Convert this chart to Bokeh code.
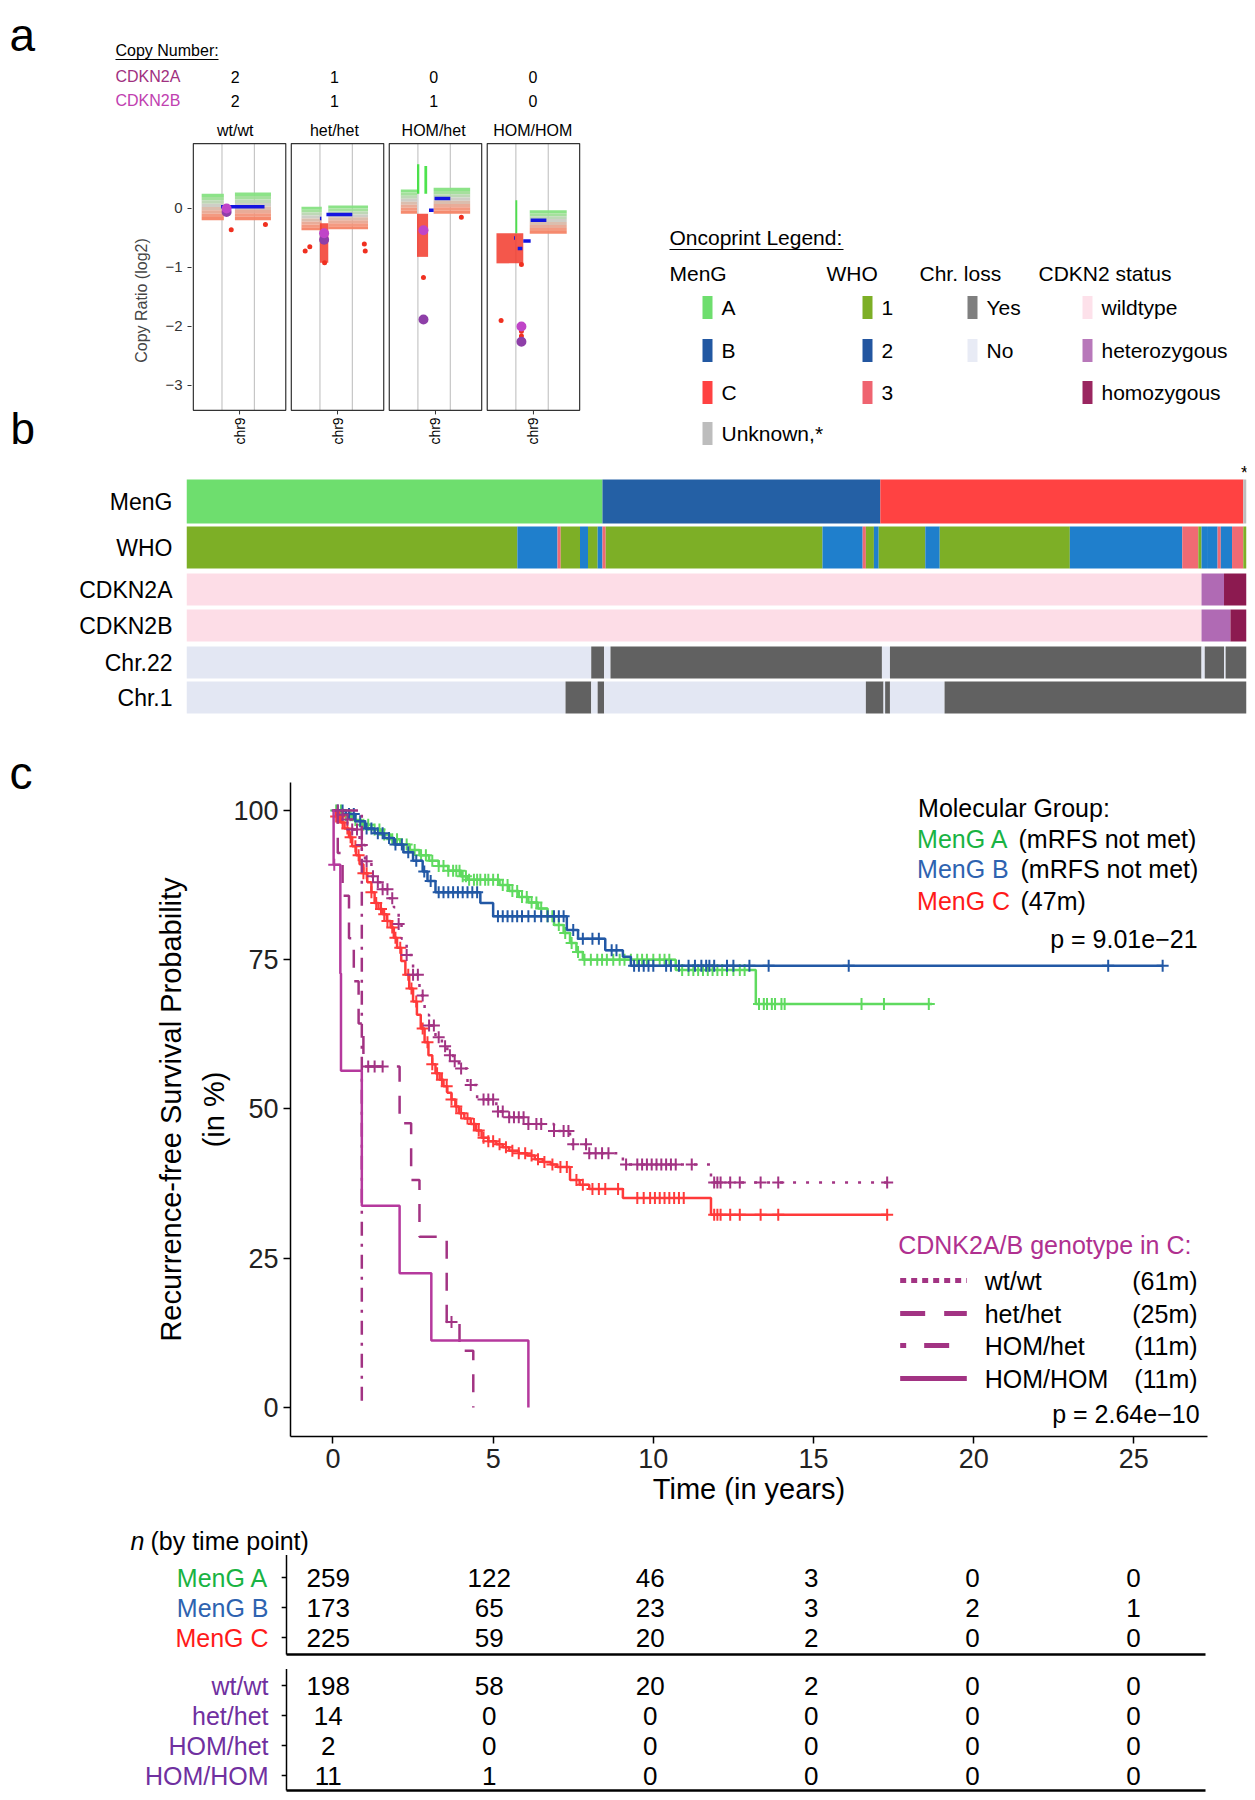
import numpy as np
from bokeh.plotting import figure
from bokeh.layouts import column, row
from bokeh.models import Range1d, FixedTicker
from bokeh.core.properties import value
from bokeh.embed import file_html
from bokeh.resources import INLINE

FONT = "Liberation Sans"

# ======================= DATA =======================
# ---- panel a : copy number profiles of chr9 ----
facet_names = ["wt/wt", "het/het", "HOM/het", "HOM/HOM"]
cn_cdkn2a = [2, 1, 0, 0]
cn_cdkn2b = [2, 1, 1, 0]
# dense bins drawn as bands (facet, relative chr position, log2 ratio extent)
band_facet = [0, 0, 1, 1, 2, 2, 3]
band_x0 = [0.09, 0.45, 0.11, 0.40, 0.125, 0.48, 0.46]
band_x1 = [0.33, 0.84, 0.33, 0.83, 0.30, 0.875, 0.86]
band_top = [0.25, 0.27, 0.03, 0.05, 0.32, 0.35, -0.03]
band_bot = [-0.20, -0.20, -0.37, -0.35, -0.09, -0.09, -0.43]
loss_facet = [1, 2, 3]
loss_x0 = [0.31, 0.30, 0.10]
loss_x1 = [0.40, 0.42, 0.39]
loss_top = [-0.25, -0.09, -0.42]
loss_bot = [-0.92, -0.82, -0.93]
gain_facet = [2, 2, 3]
gain_x0 = [0.30, 0.38, 0.305]
gain_x1 = [0.325, 0.41, 0.325]
gain_top = [0.75, 0.72, 0.14]
gain_bot = [0.25, 0.25, -0.42]
out_facet = [0, 0, 1, 1, 1, 1, 1, 2, 2, 3, 3, 3, 3]
out_x = [0.41, 0.78, 0.15, 0.20, 0.36, 0.79, 0.80, 0.37, 0.78, 0.15, 0.37, 0.37, 0.37]
out_y = [-0.36, -0.27, -0.72, -0.65, -0.92, -0.60, -0.72, -1.17, -0.15, -1.90, -0.95, -2.08, -2.16]
seg_facet = [0, 1, 1, 2, 2, 3, 3, 3, 3]
seg_x0 = [0.30, 0.38, 0.31, 0.49, 0.43, 0.47, 0.29, 0.39, 0.33]
seg_x1 = [0.77, 0.66, 0.325, 0.66, 0.48, 0.64, 0.30, 0.47, 0.38]
seg_y = [0.03, -0.10, -0.17, 0.17, -0.03, -0.20, -0.50, -0.55, -0.68]
gene_facet = [0, 0, 1, 1, 2, 2, 3, 3]
gene_x = [0.36, 0.36, 0.355, 0.355, 0.37, 0.37, 0.37, 0.37]
gene_y = [-0.06, 0.00, -0.53, -0.42, -1.88, -0.37, -2.26, -2.00]
gene_id = ["A", "B", "A", "B", "A", "B", "A", "B"]

# ---- panel b : oncoprint (sample index segments) ----
meng_breaks = [0, 259, 432, 658, 660]
meng_group = ["A", "B", "C", "U"]
who_breaks = [0, 206, 231, 233, 245, 250, 256, 259, 261, 396, 421, 423, 428, 431, 460,
              469, 550, 620, 630, 632, 636, 642, 644, 651, 658, 660]
who_grade = [1, 2, 3, 1, 2, 1, 2, 3, 1, 2, 3, 1, 2, 1, 2, 1, 2, 3, 1, 2, 2, 3, 2, 3, 1]
cdkn2a_breaks = [0, 632, 646, 660]
cdkn2a_state = ["wt", "het", "hom"]
cdkn2b_breaks = [0, 632, 650, 660]
cdkn2b_state = ["wt", "het", "hom"]
chr22_breaks = [0, 252, 260, 264, 433, 438, 632, 634, 646, 647, 660]
chr22_loss = [0, 1, 0, 1, 0, 1, 0, 1, 0, 1]
chr1_breaks = [0, 236, 252, 256, 260, 423, 434, 435, 438, 472, 660]
chr1_loss = [0, 1, 0, 1, 0, 1, 0, 1, 0, 1]

# ---- panel c : Kaplan-Meier curves (time in years, survival in %) ----
A_t = [0, 0.3, 0.6, 0.9, 1.2, 1.5, 1.8, 2.1, 2.4, 2.7, 3.0, 3.3, 3.6, 4.0, 4.2, 5.2, 5.5,
       5.8, 6.1, 6.4, 6.7, 6.9, 7.2, 7.4, 7.6, 7.8, 10.7, 13.2, 18.7]
A_s = [100, 99.2, 98.4, 97.6, 96.8, 96.0, 95.2, 94.3, 93.4, 92.5, 91.6, 90.7, 89.9, 89.0,
       88.4, 87.5, 86.5, 85.5, 84.6, 83.6, 82.3, 80.8, 79.5, 77.8, 76.3, 75.0, 73.3, 67.6, 67.6]
A_cens = [0.1, 0.25, 0.4, 0.55, 0.7, 0.95, 1.1, 1.3, 1.45, 1.6, 1.85, 2.0, 2.3, 2.55, 2.75,
          2.9, 3.1, 3.3, 3.45, 3.6, 3.75, 3.85, 3.95, 4.05, 4.15, 4.25, 4.4, 4.5, 4.6, 4.75,
          4.85, 5.0, 5.15, 5.3, 5.45, 5.6, 5.75, 5.9, 6.05, 6.2, 6.35, 6.5, 6.7, 6.85, 7.05,
          7.25, 7.45, 7.65, 7.85, 8.05, 8.25, 8.4, 8.55, 8.75, 8.95, 9.1, 9.3, 9.5, 9.65, 9.8,
          10.0, 10.2, 10.35, 10.5, 10.9, 11.1, 11.25, 11.4, 11.55, 11.7, 11.85, 12.0, 12.15,
          12.3, 12.5, 12.7, 12.85, 13.3, 13.45, 13.55, 13.7, 13.8, 14.0, 14.1, 16.5, 17.2, 18.6]
B_t = [0, 0.4, 0.7, 1.0, 1.3, 1.6, 1.9, 2.2, 2.5, 2.8, 2.95, 3.2, 4.6, 5.0, 7.3, 7.65, 8.5,
       9.05, 9.3, 25.9]
B_s = [100, 99.4, 98.2, 97.0, 96.2, 95.4, 94.3, 93.0, 91.6, 89.8, 88.2, 86.3, 84.5, 82.3,
       80.0, 78.5, 76.6, 75.5, 74.0, 74.0]
B_cens = [0.15, 0.3, 0.5, 0.65, 0.85, 1.05, 1.2, 1.4, 1.55, 1.75, 1.95, 2.15, 2.35, 2.6, 2.85,
          3.05, 3.3, 3.45, 3.6, 3.75, 3.9, 4.05, 4.2, 4.35, 4.5, 5.15, 5.3, 5.45, 5.6, 5.75,
          5.9, 6.1, 6.3, 6.5, 6.7, 6.9, 7.05, 7.2, 7.5, 7.8, 8.1, 8.3, 8.7, 8.85, 9.4, 9.55,
          9.7, 9.85, 10.0, 10.4, 10.55, 10.8, 11.1, 11.3, 11.5, 11.65, 11.75, 11.9, 12.3, 12.5,
          13.0, 13.6, 16.1, 24.2, 25.9]
C_t = [0, 0.1, 0.25, 0.36, 0.5, 0.6, 0.72, 0.83, 0.95, 1.07, 1.2, 1.3, 1.42, 1.55, 1.68, 1.8,
       1.9, 2.0, 2.13, 2.26, 2.38, 2.5, 2.62, 2.74, 2.86, 2.98, 3.1, 3.2, 3.33, 3.45, 3.57, 3.7,
       3.82, 3.93, 4.1, 4.3, 4.47, 4.64, 4.85, 5.1, 5.3, 5.5, 5.8, 6.07, 6.3, 6.55, 6.8, 7.0,
       7.4, 7.7, 8.0, 9.05, 11.8, 17.3]
C_s = [100, 99, 98, 97, 95.5, 94, 92.5, 91, 89.5, 88, 86.3, 84.5, 83.5, 82.6, 81.5, 80.4,
       78.7, 77, 74.8, 72.5, 70.2, 68, 65.8, 63.5, 61.2, 59, 57.5, 56, 54.9, 53.8, 52.7, 51.6,
       50.4, 49.3, 48.4, 47.5, 46.4, 45.2, 44.6, 44.1, 43.6, 43, 42.6, 42.2, 41.6, 41.1, 40.7,
       40.3, 38.1, 37.3, 36.6, 35.1, 32.3, 32.3]
C_cens = [0.1, 0.2, 0.3, 0.45, 0.55, 0.7, 0.8, 0.95, 1.05, 1.2, 1.35, 1.5, 1.6, 1.7, 1.85,
          1.95, 2.1, 2.35, 2.45, 2.6, 2.8, 2.95, 3.1, 3.25, 3.4, 3.55, 3.7, 3.85, 4.0, 4.2, 4.4,
          4.55, 4.7, 4.85, 5.0, 5.2, 5.4, 5.6, 5.8, 6.0, 6.2, 6.4, 6.6, 6.85, 7.1, 7.3, 7.6,
          7.8, 8.1, 8.3, 8.5, 8.9, 9.5, 9.7, 9.9, 10.05, 10.2, 10.35, 10.5, 10.65, 10.8, 10.95,
          11.9, 12.0, 12.1, 12.4, 12.7, 13.35, 13.9, 17.3]
W_t = [0, 0.2, 0.4, 0.6, 0.83, 1.0, 1.2, 1.4, 1.55, 1.75, 1.9, 2.05, 2.14, 2.3, 2.5, 2.7,
       2.86, 3.0, 3.2, 3.4, 3.57, 3.75, 3.93, 4.2, 4.5, 5.1, 5.5, 6.07, 6.9, 7.4, 8.0, 9.05,
       11.8, 17.3]
W_s = [100, 99.3, 98.5, 96.8, 94.2, 91.5, 89, 88, 86.8, 85.3, 83.8, 81, 78.5, 75.8, 72.5, 69,
       65.8, 64, 62, 60.5, 59, 58, 56.8, 54, 51.6, 49.6, 48.6, 47.5, 46.3, 44.1, 42.6, 40.7,
       37.7, 37.7]
W_cens = [0.15, 0.3, 0.45, 0.6, 0.75, 0.9, 1.05, 1.25, 1.4, 1.55, 1.7, 1.85, 2.05, 2.3, 2.5,
          2.65, 2.8, 3.0, 3.15, 3.3, 3.5, 3.65, 3.8, 4.0, 4.3, 4.7, 4.85, 5.0, 5.15, 5.3, 5.5,
          5.65, 5.8, 5.95, 6.1, 6.35, 6.5, 6.9, 7.2, 7.35, 7.5, 7.9, 8.0, 8.2, 8.4, 8.6, 9.15,
          9.5, 9.65, 9.8, 9.95, 10.1, 10.25, 10.4, 10.55, 10.7, 11.2, 11.9, 12.0, 12.1, 12.4,
          12.7, 13.35, 13.9, 17.3]
H_t = [0, 0.15, 0.3, 0.5, 0.65, 0.8, 0.95, 2.08, 2.44, 2.7, 3.55, 3.95, 4.38]
H_s = [100, 92.9, 85.7, 78.6, 71.4, 64.3, 57.1, 47.6, 38.1, 28.6, 14.3, 9.5, 0]
H_cens = [1.1, 1.3, 1.55, 3.7]
G_t = [0, 0.9]
G_s = [100, 0]
K_t = [0, 0.02, 0.23, 0.25, 0.9, 2.08, 3.07, 6.1]
K_s = [100, 90.9, 72.7, 56.4, 33.8, 22.5, 11.2, 0]
K_cens = [0.04]

# ---- numbers at risk ----
risk_times = [0, 5, 10, 15, 20, 25]
risk_labels = ["MenG A", "MenG B", "MenG C", "wt/wt", "het/het", "HOM/het", "HOM/HOM"]
risk_A = [259, 122, 46, 3, 0, 0]
risk_B = [173, 65, 23, 3, 2, 1]
risk_C = [225, 59, 20, 2, 0, 0]
risk_wt = [198, 58, 20, 2, 0, 0]
risk_het = [14, 0, 0, 0, 0, 0]
risk_homhet = [2, 0, 0, 0, 0, 0]
risk_homhom = [11, 1, 0, 0, 0, 0]

# ======================= STYLE / LAYOUT =======================
MENG_COL = {"A": "#6EDE6E", "B": "#2460A5", "C": "#FF4242", "U": "#BDBDBD"}
WHO_COL = {1: "#7DAF26", 2: "#1F7FCC", 3: "#F06A73"}
CDKN_COL = {"wt": "#FDDDE7", "het": "#B06AB4", "hom": "#8C1A50"}
CHR_COL = {0: "#E3E7F3", 1: "#616161"}
GRAD = ["#86E282", "#A0DE98", "#BBD6B2", "#CBCBC3", "#D9BAAA", "#E8A892", "#F2957A", "#F48466"]
COL_A, COL_B, COL_C = "#5FDA5F", "#2258A5", "#FF3A3A"
COL_G, COL_GH = "#A23383", "#B5399D"


def clean(p):
    p.outline_line_color = None
    p.grid.visible = False
    p.background_fill_color = None
    p.border_fill_color = None


def T(p, xs, ys, texts, size, color="black", align="left", baseline="middle",
      angle=0.0, style="normal"):
    p.text(x=list(xs), y=list(ys), text=list(texts), text_font=value(FONT),
           text_font_size=size, text_color=color, text_align=align,
           text_baseline=baseline, angle=angle, text_font_style=style)


def fig(w, h, xr, yr, **kw):
    p = figure(width=w, height=h, x_range=xr, y_range=yr, output_backend="svg",
               toolbar_location=None, **kw)
    clean(p)
    return p


def pad(w, h, x0, y0):
    """blank canvas in page-pixel coordinates (for panel letters / outer titles)"""
    return fig(w, h, Range1d(x0, x0 + w), Range1d(y0 + h, y0), min_border=0,
               x_axis_location=None, y_axis_location=None)


# ---------- panel a geometry ----------
FSTEP = 1.06
AX0, AX1 = -0.02, 4.20
A_LEFT = 186
PXU = 395 / (AX1 - AX0)


def ax_px(px):
    return AX0 + (px - A_LEFT) / PXU


fc = [k * FSTEP + 0.5 for k in range(4)]

# header
hdr = fig(590, 138, Range1d(ax_px(0), ax_px(590)), Range1d(138, 0), min_border=0,
          x_axis_location=None, y_axis_location=None)
T(hdr, [ax_px(9)], [34], ["a"], "46px", baseline="alphabetic")
T(hdr, [ax_px(115)], [50], ["Copy Number:"], "16px")
hdr.segment(x0=[ax_px(115)], x1=[ax_px(218)], y0=[59], y1=[59], line_color="black", line_width=1)
T(hdr, [ax_px(115)], [76], ["CDKN2A"], "16px", color="#A03080")
T(hdr, [ax_px(115)], [100], ["CDKN2B"], "16px", color="#C040B0")
T(hdr, fc, [76] * 4, [str(v) for v in cn_cdkn2a], "16px", align="center")
T(hdr, fc, [100] * 4, [str(v) for v in cn_cdkn2b], "16px", align="center")
T(hdr, fc, [130] * 4, facet_names, "16px", align="center")

# gutter with letter b
gut_b = pad(130, 324, 0, 138)
T(gut_b, [10], [428], ["b"], "44px", baseline="middle")

# panel a plot
pan = fig(460, 324, Range1d(AX0, AX1), Range1d(-4.305, 1.186), min_border_left=56,
          min_border_right=9, min_border_top=0, min_border_bottom=0, x_axis_location=None)
BOX_T, BOX_B = 1.10, -3.42
gx = []
for k in range(4):
    gx += [k * FSTEP + 0.31, k * FSTEP + 0.66]
pan.segment(x0=gx, x1=gx, y0=[BOX_B] * 8, y1=[BOX_T] * 8, line_color="#BBBBBB", line_width=1)
sl, sr, st, sb, sc = [], [], [], [], []
for f, x0, x1, t, b in zip(band_facet, band_x0, band_x1, band_top, band_bot):
    h = (t - b) / len(GRAD)
    for i, c in enumerate(GRAD):
        sl.append(f * FSTEP + x0); sr.append(f * FSTEP + x1)
        st.append(t - i * h); sb.append(t - (i + 1) * h); sc.append(c)
pan.quad(left=sl, right=sr, top=st, bottom=sb, fill_color=sc, line_color=None, fill_alpha=0.95)
pan.quad(left=[f * FSTEP + x for f, x in zip(loss_facet, loss_x0)],
         right=[f * FSTEP + x for f, x in zip(loss_facet, loss_x1)],
         top=loss_top, bottom=loss_bot, fill_color="#F23A2C", line_color=None, fill_alpha=0.85)
pan.quad(left=[f * FSTEP + x for f, x in zip(gain_facet, gain_x0)],
         right=[f * FSTEP + x for f, x in zip(gain_facet, gain_x1)],
         top=gain_top, bottom=gain_bot, fill_color="#3BE03B", line_color=None, fill_alpha=0.9)
pan.scatter(x=[f * FSTEP + x for f, x in zip(out_facet, out_x)], y=out_y, size=5,
            fill_color="#F03020", line_color=None)
pan.segment(x0=[f * FSTEP + x for f, x in zip(seg_facet, seg_x0)],
            x1=[f * FSTEP + x for f, x in zip(seg_facet, seg_x1)],
            y0=seg_y, y1=seg_y, line_color="#1414E0", line_width=3.5)
pan.scatter(x=[f * FSTEP + x for f, x in zip(gene_facet, gene_x)], y=gene_y, size=10,
            fill_color=["#8E3FA8" if g == "A" else "#C045C8" for g in gene_id], line_color=None)
pan.quad(left=[k * FSTEP for k in range(4)], right=[k * FSTEP + 1 for k in range(4)],
         top=[BOX_T] * 4, bottom=[BOX_B] * 4, fill_color=None, line_color="#333333",
         line_width=1.2)
pan.segment(x0=fc, x1=fc, y0=[BOX_B] * 4, y1=[BOX_B - 0.07] * 4, line_color="#333333")
T(pan, fc, [BOX_B - 0.12] * 4, ["chr9"] * 4, "14px", align="right", angle=np.pi / 2)
ya = pan.yaxis[0]
ya.ticker = FixedTicker(ticks=[0, -1, -2, -3])
ya.axis_line_color = None
ya.major_tick_out = 4
ya.major_tick_in = 0
ya.major_tick_line_color = "#333333"
ya.minor_tick_line_color = None
ya.major_label_text_font = FONT
ya.major_label_text_font_size = "15px"
ya.major_label_text_color = "#333333"
ya.axis_label = "Copy Ratio (log2)"
ya.axis_label_text_font = FONT
ya.axis_label_text_font_size = "16px"
ya.axis_label_text_font_style = "normal"
ya.axis_label_standoff = 12

# oncoprint legend
leg = fig(657, 462, Range1d(590, 1247), Range1d(462, 0), min_border=0,
          x_axis_location=None, y_axis_location=None)
T(leg, [669], [237], ["Oncoprint Legend:"], "21px")
leg.segment(x0=[669], x1=[843], y0=[249], y1=[249], line_color="black", line_width=1.2)
T(leg, [669, 826, 919, 1038], [273] * 4, ["MenG", "WHO", "Chr. loss", "CDKN2 status"], "21px")
LROW = [307, 350, 392, 433]
leg_cols = [
    (702, ["A", "B", "C", "Unknown,*"], ["#6EDE6E", "#2258A2", "#FF4242", "#BDBDBD"]),
    (862, ["1", "2", "3"], ["#7DAF26", "#2356A0", "#EF6470"]),
    (967, ["Yes", "No"], ["#7F7F7F", "#E8EBF5"]),
    (1082, ["wildtype", "heterozygous", "homozygous"], ["#FDE1EA", "#B878BA", "#9A2660"]),
]
for x0, labs, cols in leg_cols:
    n = len(labs)
    leg.quad(left=[x0] * n, right=[x0 + 10] * n, top=[y - 11.5 for y in LROW[:n]],
             bottom=[y + 11.5 for y in LROW[:n]], fill_color=cols, line_color=None)
    T(leg, [x0 + 19] * n, LROW[:n], labs, "21px")

top = row(column(hdr, row(column(gut_b), column(pan))), column(leg))

# ---------- panel b : oncoprint ----------
ROW_TOP = [479, 526, 573, 609, 646, 681]
ROW_BOT = [523, 568, 605, 641, 678, 713]
ROW_NAME = ["MenG", "WHO", "CDKN2A", "CDKN2B", "Chr.22", "Chr.1"]
pB = fig(1247, 268, Range1d(0, 660), Range1d(730, 462), min_border_left=186,
         min_border_right=1, min_border_top=0, min_border_bottom=0, x_axis_location=None)
rows = [(meng_breaks, [MENG_COL[g] for g in meng_group]),
        (who_breaks, [WHO_COL[g] for g in who_grade]),
        (cdkn2a_breaks, [CDKN_COL[s] for s in cdkn2a_state]),
        (cdkn2b_breaks, [CDKN_COL[s] for s in cdkn2b_state]),
        (chr22_breaks, [CHR_COL[s] for s in chr22_loss]),
        (chr1_breaks, [CHR_COL[s] for s in chr1_loss])]
for i, (br, cols) in enumerate(rows):
    n = len(cols)
    pB.quad(left=br[:-1], right=br[1:], top=[ROW_TOP[i]] * n, bottom=[ROW_BOT[i]] * n,
            fill_color=cols, line_color=None)
T(pB, [meng_breaks[-2] + 0.8], [472], ["*"], "18px", align="center")
yb = pB.yaxis[0]
centers = [(a + b) // 2 for a, b in zip(ROW_TOP, ROW_BOT)]
yb.ticker = FixedTicker(ticks=centers)
yb.major_label_overrides = {c: n for c, n in zip(centers, ROW_NAME)}
yb.axis_line_color = None
yb.major_tick_line_color = None
yb.minor_tick_line_color = None
yb.major_label_standoff = 8
yb.major_label_text_font = FONT
yb.major_label_text_font_size = "23px"
yb.major_label_text_color = "black"

# ---------- panel c : KM ----------
KM_L, KM_R, KM_T, KM_B = 285, 1207, 782, 1436
KM_X0, KM_X1 = -1.326, 27.30
KM_Y0, KM_Y1 = -4.86, 104.69
PX_YR = (KM_R - KM_L) / (KM_X1 - KM_X0)
PX_PCT = (KM_B - KM_T) / (KM_Y1 - KM_Y0)


def kx(px):
    return KM_X0 + (px - KM_L) / PX_YR


def ky(py):
    return KM_Y1 - (py - KM_T) / PX_PCT


gut_c = pad(195, 790, 0, 730)
T(gut_c, [9], [772], ["c"], "46px", baseline="alphabetic")
T(gut_c, [170], [1109], ["Recurrence-free Survival Probability"], "29px", align="center",
  angle=np.pi / 2)

pC = fig(1052, 790, Range1d(KM_X0, KM_X1), Range1d(KM_Y0, KM_Y1), min_border_left=90,
         min_border_right=40, min_border_top=52, min_border_bottom=84)


def surv_at(ts, ss, c):
    idx = np.searchsorted(np.asarray(ts), np.asarray(c), side="right") - 1
    return list(np.asarray(ss)[idx])


curves = [
    (A_t, A_s, A_cens, COL_A, "solid", 2.5),
    (B_t, B_s, B_cens, COL_B, "solid", 2.5),
    (C_t, C_s, C_cens, COL_C, "solid", 2.5),
    (W_t, W_s, W_cens, COL_G, "3 10", 2.5),
    (H_t, H_s, H_cens, COL_G, "18 14", 2.5),
    (G_t, G_s, [], COL_G, "3 8 14 8", 2.5),
    (K_t, K_s, K_cens, COL_GH, "solid", 2.5),
]
for ts, ss, cens, col, dash, lw in curves:
    pC.step(x=ts, y=ss, mode="after", line_color=col, line_width=lw, line_dash=dash)
    if cens:
        pC.scatter(x=cens, y=surv_at(ts, ss, cens), marker="cross", size=12,
                   line_color=col, line_width=2)

for ax in (pC.xaxis[0], pC.yaxis[0]):
    ax.axis_line_color = "black"
    ax.axis_line_width = 1.5
    ax.major_tick_line_color = "black"
    ax.major_tick_line_width = 1.5
    ax.major_tick_out = 7
    ax.major_tick_in = 0
    ax.minor_tick_line_color = None
    ax.major_label_text_font = FONT
    ax.major_label_text_font_size = "27px"
    ax.major_label_text_color = "#222222"
    ax.axis_label_text_font = FONT
    ax.axis_label_text_font_style = "normal"
    ax.axis_label_text_font_size = "29px"
    ax.axis_label_text_color = "black"
pC.xaxis[0].ticker = FixedTicker(ticks=risk_times)
pC.yaxis[0].ticker = FixedTicker(ticks=[0, 25, 50, 75, 100])
pC.xaxis[0].axis_label = "Time (in years)"
pC.xaxis[0].axis_label_standoff = 2
pC.yaxis[0].axis_label = "(in %)"
pC.yaxis[0].axis_label_standoff = 0

# legends in KM
T(pC, [kx(916)], [ky(807)], ["Molecular Group:"], "25px")
T(pC, [kx(915)] * 3, [ky(838), ky(868), ky(900)], ["MenG A", "MenG B", "MenG C"], "25px",
  color=["#19B343", "#2E63B0", "#FF1A1A"])
T(pC, [kx(1017), kx(1019), kx(1019)], [ky(838), ky(868), ky(900)],
  ["(mRFS not met)", "(mRFS not met)", "(47m)"], "25px")
T(pC, [kx(1197)], [ky(938)], ["p = 9.01e\u221221"], "25px", align="right")
T(pC, [kx(896)], [ky(1244)], ["CDNK2A/B genotype in C:"], "25px", color="#B03090")
LY = [ky(1280), ky(1313), ky(1345), ky(1378)]
for yy, dash in zip(LY, ["6 5", "25 19", "6 18 25 18", "solid"]):
    pC.line(x=[kx(898), kx(965)], y=[yy, yy], line_color=COL_G, line_width=5, line_dash=dash)
T(pC, [kx(983)] * 4, LY, ["wt/wt", "het/het", "HOM/het", "HOM/HOM"], "25px")
T(pC, [kx(1197)] * 4, LY, ["(61m)", "(25m)", "(11m)", "(11m)"], "25px", align="right")
T(pC, [kx(1199)], [ky(1413)], ["p = 2.64e\u221210"], "25px", align="right")

# ---------- numbers at risk ----------
D_X0 = KM_X0 - KM_L / PX_YR
D_X1 = KM_X1 + (1247 - KM_R) / PX_YR
pD = fig(1247, 276, Range1d(D_X0, D_X1), Range1d(7.3, -1.9), min_border=0,
         x_axis_location=None, y_axis_location=None)
RROW = [0, 1, 2, 3.6, 4.6, 5.6, 6.6]
risk_all = [risk_A, risk_B, risk_C, risk_wt, risk_het, risk_homhet, risk_homhom]
lab_cols = ["#19B343", "#2E63B0", "#FF1A1A", "#7030A0", "#7030A0", "#7030A0", "#7030A0"]
for r, vals in zip(RROW, risk_all):
    T(pD, risk_times, [r] * 6, [str(v) for v in vals], "26px", align="center")
T(pD, [kx(268)] * 7, RROW, risk_labels, "25px", color=lab_cols, align="right")
pD.text(x=[kx(130)], y=[-1.23], text=["n"], text_font=value(FONT), text_font_size="25px",
        text_font_style="italic", text_baseline="middle")
pD.text(x=[kx(130)], y=[-1.23], text=["(by time point)"], text_font=value(FONT),
        text_font_size="25px", text_baseline="middle", x_offset=20)
VX = kx(286)
pD.segment(x0=[VX, VX], x1=[VX, VX], y0=[-0.75, 3.05], y1=[2.57, 7.1],
           line_color="black", line_width=1.5)
pD.segment(x0=[VX - 0.15] * 7, x1=[VX] * 7, y0=RROW, y1=RROW, line_color="black",
           line_width=1.5)
pD.segment(x0=[VX, VX], x1=[kx(1205), kx(1205)], y0=[2.57, 7.1], y1=[2.57, 7.1],
           line_color="black", line_width=2.5)

layout = column(top, row(column(pB)), row(column(gut_c), column(pC)), row(column(pD)))
open("out.html", "w").write(file_html(layout, INLINE))
